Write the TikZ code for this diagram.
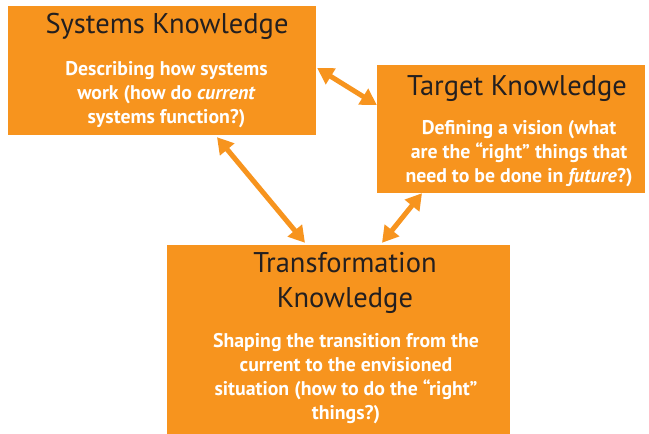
\documentclass[tikz,border=0pt]{standalone}
\usepackage{fontspec}
\setmainfont{PT Sans}
\usepackage{tikz}
\usetikzlibrary{arrows.meta, positioning, calc}
\definecolor{orangebloc}{HTML}{F7941E}
\definecolor{texte}{HTML}{231F20}
\tikzset{
  bloc/.style={rectangle, fill=orangebloc, inner sep=0pt},
  titre/.style={text=texte, font=\fontsize{28.5}{35}\selectfont, align=center,
    anchor=base, inner sep=0pt},
  corps/.style={text=white, font=\bfseries\fontsize{19.8}{24}\selectfont,
    align=center, anchor=base, inner sep=0pt},
  fleche/.style={{Triangle[length=16pt, width=18pt]}-{Triangle[length=16pt, width=18pt]},
    line width=5pt, color=orangebloc}
}
\begin{document}
\begin{tikzpicture}[x=1pt, y=1pt]
    \useasboundingbox (0,0) rectangle (649,434);

    \node[bloc, minimum width=308pt, minimum height=129pt] (sys) at (162,363.5) {};
    \node[bloc, minimum width=268pt, minimum height=128pt] (tgt) at (511,305) {};
    \node[bloc, minimum width=343pt, minimum height=189pt] (trans) at (338.5,94.5) {};

    % base = baseline of the last line
    \node[titre] (sys-titre) at ([xshift=5pt, yshift=-28pt]sys.north) {Systems Knowledge};
    \node[corps] (sys-corps) at ([xshift=4.5pt, yshift=-118pt]sys.north)
      {Describing how systems\\ work (how do \textit{current}\\ systems function?)};

    \node[titre] (tgt-titre) at ([xshift=6pt, yshift=-31pt]tgt.north) {Target Knowledge};
    \node[corps] (tgt-corps) at ([xshift=8pt, yshift=-118pt]tgt.north)
      {Defining a vision (what\\ are the “right” things that\\ need to be done in \textit{future}?)};

    \node[titre] (trans-titre) at ([xshift=6.5pt, yshift=-63pt]trans.north) {Transformation\\ Knowledge};
    \node[corps] (trans-corps) at ([xshift=7.5pt, yshift=-175pt]trans.north)
      {Shaping the transition from the\\ current to the envisioned\\ situation (how to do the “right”\\ things?)};

    \draw[fleche] ([xshift=1pt, yshift=2.5pt]sys.east) -- ([yshift=24pt]tgt.west);
    \draw[fleche] ([xshift=55pt, yshift=-2pt]sys.south) -- ([xshift=-33.5pt, yshift=2pt]trans.north);
    \draw[fleche] ([xshift=-89pt]tgt.south) -- ([xshift=43.5pt, yshift=2pt]trans.north);
\end{tikzpicture}
\end{document}
